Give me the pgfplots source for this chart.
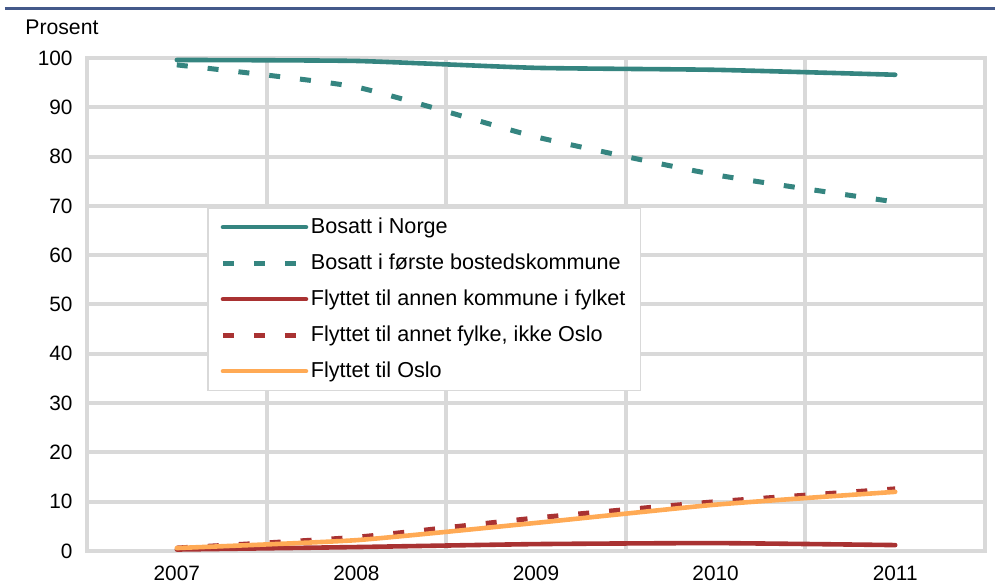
\documentclass[border=0pt]{standalone}
\usepackage{fontspec}
\setmainfont{Liberation Sans}
\usepackage{pgfplots}
\pgfplotsset{compat=1.18}
\definecolor{teal1}{HTML}{358580}
\definecolor{red1}{HTML}{A93232}
\definecolor{orange1}{HTML}{FFAA55}
\definecolor{gridgray}{HTML}{D9D9D9}
\definecolor{topblue}{HTML}{44598A}
\begin{document}
\fontsize{10.6bp}{12bp}\selectfont
\begin{tikzpicture}
\useasboundingbox (-43.5bp,-18.5bp) rectangle (454bp,275.5bp);
\begin{axis}[
 at={(0,0)}, anchor=south west, scale only axis, width=449bp, height=246.5bp,
 xmin=-0.5, xmax=4.5, ymin=0, ymax=100,
 xtick={0,1,2,3,4}, xticklabels={2007,2008,2009,2010,2011},
 minor xtick={0.5,1.5,2.5,3.5}, xminorgrids, ytick={0,10,...,100}, ymajorgrids,
 grid style={gridgray, line width=2bp},
 minor grid style={gridgray, line width=2bp},
 axis line style={gridgray, line width=2bp},
 major tick length=0, minor tick length=0,
 tick style={draw=none},
 /pgf/number format/assume math mode=true,
 ticklabel style={font=\fontsize{10.4bp}{12bp}\selectfont},
 yticklabel style={xshift=-3.5bp},
 xticklabel style={yshift=-4bp},
 legend style={at={(0.1336,0.698)}, anchor=north west, draw=gridgray, line width=0.9bp, fill=white,
   font=\fontsize{10.8bp}{12bp}\selectfont, row sep=4.6bp, inner xsep=6.3bp, inner ysep=3bp,
   nodes={inner xsep=1.2bp}, cells={anchor=west}},
 legend image code/.code={\draw[#1] (0bp,0bp) -- (41.5bp,0bp);},
]
\addplot[teal1, line width=2.3bp, line cap=round, smooth, tension=0.3] coordinates {(0,99.6) (1,99.4) (2,98.0) (3,97.6) (4,96.6)};
\addlegendentry{Bosatt i Norge}
\addplot[teal1, line width=2.5bp, dash pattern=on 5.5bp off 10bp, smooth, tension=0.3] coordinates {(0,98.6) (1,94.1) (2,84.0) (3,76.3) (4,70.8)};
\addlegendentry{Bosatt i første bostedskommune}
\addplot[red1, line width=2.3bp, line cap=round, smooth, tension=0.3] coordinates {(0,0.3) (1,0.8) (2,1.4) (3,1.6) (4,1.2)};
\addlegendentry{Flyttet til annen kommune i fylket}
\addplot[red1, line width=2.5bp, dash pattern=on 5.5bp off 10bp, smooth, tension=0.3] coordinates {(0,0.6) (1,2.8) (2,6.7) (3,10.0) (4,12.6)};
\addlegendentry{Flyttet til annet fylke, ikke Oslo}
\addplot[orange1, line width=2.3bp, line cap=round, smooth, tension=0.3] coordinates {(0,0.6) (1,2.2) (2,5.7) (3,9.4) (4,12.0)};
\addlegendentry{Flyttet til Oslo}
\end{axis}
\draw[topblue, line width=1.5bp] (-41bp,271bp) -- (454bp,271bp);
\node[anchor=west, inner sep=0] at (-31bp,262bp) {Prosent};
\end{tikzpicture}
\end{document}
